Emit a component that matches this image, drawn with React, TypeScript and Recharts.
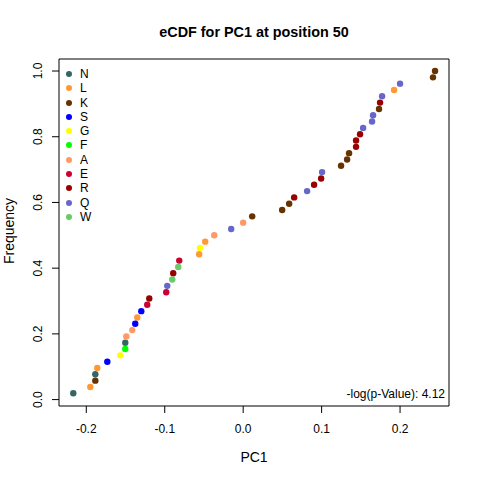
import React from 'react';
import { ScatterChart, Scatter, XAxis, YAxis, ReferenceArea, Legend } from 'recharts';

// PC1 values, sorted (one per residue observation)
const pc1 = [
  -0.2166, -0.1949, -0.1885, -0.1885, -0.186, -0.1732, -0.1567, -0.1503, -0.1503, -0.149,
  -0.1414, -0.1376, -0.135, -0.1299, -0.1223, -0.1197, -0.0981, -0.0968, -0.0904, -0.0892,
  -0.0828, -0.0815, -0.0561, -0.0552, -0.0484, -0.0369, -0.0153, 0.0, 0.0115, 0.0497,
  0.0586, 0.065, 0.0815, 0.0904, 0.0994, 0.1006, 0.1248, 0.1325, 0.135, 0.1439,
  0.1439, 0.149, 0.1529, 0.1643, 0.1656, 0.1732, 0.1745, 0.1771, 0.1924, 0.2,
  0.242, 0.2446,
];
const residues = [
  'N', 'L', 'K', 'N', 'L', 'S', 'G', 'F', 'N', 'A',
  'A', 'S', 'L', 'S', 'E', 'R', 'E', 'Q', 'W', 'R',
  'W', 'E', 'L', 'G', 'L', 'A', 'Q', 'A', 'K', 'K',
  'K', 'R', 'Q', 'R', 'R', 'Q', 'K', 'K', 'K', 'R',
  'R', 'R', 'Q', 'Q', 'Q', 'K', 'R', 'Q', 'L', 'Q',
  'K', 'K',
];
const groups = ['N', 'L', 'K', 'S', 'G', 'F', 'A', 'E', 'R', 'Q', 'W'];
const colors = ['#336666', '#FF9933', '#663300', '#0000FF', '#FFFF00', '#00FF00', '#FF9966', '#CC0033', '#990000', '#6666CC', '#66CC66'];
const xTicks = [-0.2, -0.1, 0, 0.1, 0.2];
const yTicks = [0, 0.2, 0.4, 0.6, 0.8, 1];
const pValueText = '-log(p-Value): 4.12';

const X_DOMAIN = [-0.2348, 0.2624];
const Y_DOMAIN = [-0.0195, 1.0366];
const FONT = '"Liberation Sans", Arial, sans-serif';

// empirical CDF: rank / n
const points = pc1.map((x, i) => ({ x, y: (i + 1) / pc1.length, res: residues[i] }));

const XTick = (props: any) => (
  <text x={props.x} y={433} textAnchor="middle" fontSize={12} fontFamily={FONT} fill="#000">
    {props.payload.value.toFixed(1)}
  </text>
);

const YTick = (props: any) => (
  <text x={42} y={props.y} transform={`rotate(-90, 42, ${props.y})`} textAnchor="middle" fontSize={12} fontFamily={FONT} fill="#000">
    {props.payload.value.toFixed(1)}
  </text>
);

const renderLegend = () => (
  <div style={{ fontFamily: FONT, fontSize: 12, color: '#000' }}>
    {groups.map((g, i) => (
      <div key={g} style={{ height: 14.27, display: 'flex', alignItems: 'center' }}>
        <span style={{ width: 6, height: 6, marginLeft: 4, borderRadius: 3, background: colors[i], display: 'inline-block' }} />
        <span style={{ marginLeft: 8 }}>{g}</span>
      </div>
    ))}
  </div>
);

export default function App() {
  return (
    <div style={{ position: 'absolute', left: 0, top: 0, width: 480, height: 480, background: '#fff' }}>
      <ScatterChart width={480} height={480} margin={{ top: 59, right: 31, bottom: 0, left: 0 }}>
        <XAxis
          type="number"
          dataKey="x"
          domain={X_DOMAIN}
          ticks={xTicks}
          allowDataOverflow
          axisLine={false}
          tickLine={{ stroke: '#000' }}
          tickSize={7}
          height={74}
          tick={<XTick />}
        />
        <YAxis
          type="number"
          dataKey="y"
          domain={Y_DOMAIN}
          ticks={yTicks}
          allowDataOverflow
          axisLine={false}
          tickLine={{ stroke: '#000' }}
          tickSize={7}
          width={59}
          tick={<YTick />}
        />
        <ReferenceArea x1={X_DOMAIN[0]} x2={X_DOMAIN[1]} y1={Y_DOMAIN[0]} y2={Y_DOMAIN[1]} fill="none" stroke="#000" strokeWidth={1} />
        {groups.map((g, i) => (
          <Scatter
            key={g}
            name={g}
            data={points.filter(p => p.res === g)}
            fill={colors[i]}
            isAnimationActive={false}
            shape={(p: any) => <circle cx={p.cx} cy={p.cy} r={3.2} fill={colors[i]} />}
          />
        ))}
        <Legend
          layout="vertical"
          align="center"
          verticalAlign="middle"
          content={renderLegend}
          wrapperStyle={{ left: 62, top: 67, width: 40 }}
        />
        <text x={254} y={37} textAnchor="middle" fontSize={14.4} fontWeight="bold" fontFamily={FONT}>eCDF for PC1 at position 50</text>
        <text x={254} y={462} textAnchor="middle" fontSize={14} fontFamily={FONT}>PC1</text>
        <text x={13.5} y={231} transform="rotate(-90, 13.5, 231)" textAnchor="middle" fontSize={14} fontFamily={FONT}>Frequency</text>
        <text x={445} y={398} textAnchor="end" fontSize={12} fontFamily={FONT}>{pValueText}</text>
      </ScatterChart>
    </div>
  );
}
